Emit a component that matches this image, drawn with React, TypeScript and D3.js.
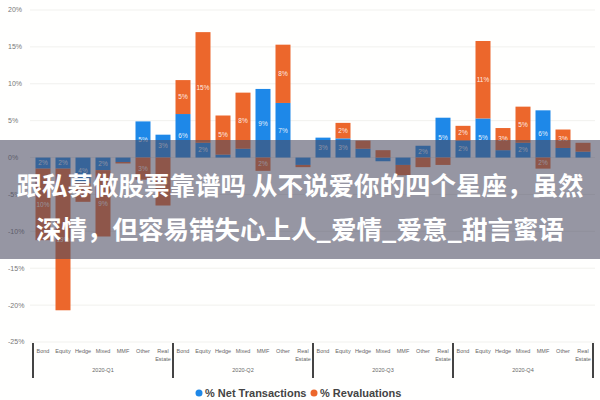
import React from "react";
import * as d3 from "d3";

const categories = ["Bond", "Equity", "Hedge", "Mixed", "MMF", "Other", "Real Estate"];
const periods = ["2020-Q1", "2020-Q2", "2020-Q3", "2020-Q4"];
const netTransactions = [
  -1.5, -1.5, -3.5, -1.7, -0.6, 4.9, 3.1,
  5.9, 2.0, 0.4, 1.2, 9.3, 7.4, -1.0,
  2.7, 2.6, 1.2, -0.5, -1.0, 1.6, 5.4,
  2.3, 5.3, 1.0, 2.0, 6.4, 1.3, 0.8,
];
const revaluations = [
  -9.7, -19.2, -2.5, -9.0, -0.2, -3.0, -6.5,
  4.6, 15.0, 5.3, 7.6, -1.8, 7.9, -0.3,
  0.0, 2.1, 1.1, 1.0, -1.4, -1.3, -1.0,
  2.0, 10.5, 3.0, 4.9, -1.5, 2.5, 1.2,
];
const yTicks = [20, 15, 10, 5, 0, -5, -10, -15, -20, -25];
const seriesNames = ["% Net Transactions", "% Revaluations"];
const titleLines = [
  "跟私募做股票靠谱吗 从不说爱你的四个星座，虽然",
  "深情，但容易错失心上人_爱情_爱意_甜言蜜语",
];

const W = 600, H = 400;
const colors = ["#1e88e8", "#ec672c"];

export default function App() {
  const rows = periods.flatMap((p, pi) =>
    categories.map((c, ci) => ({
      key: p + "|" + c,
      period: p,
      cat: c,
      net: netTransactions[pi * categories.length + ci],
      rev: revaluations[pi * categories.length + ci],
    }))
  );
  const x = d3.scaleBand<string>().domain(rows.map(r => r.key)).range([33, 593]).paddingInner(0.25).paddingOuter(0.125);
  const y = d3.scaleLinear().domain([-25, 20]).range([342, 10]);
  const stack = d3.stack<any>().keys(["net", "rev"]).offset(d3.stackOffsetDiverging);
  const series = stack(rows);
  const groupW = (593 - 33) / periods.length;

  return (
    <svg width={W} height={H} style={{ position: "absolute", left: 0, top: 0, background: "#fffffe" }}
      fontFamily="'Liberation Sans', Arial, sans-serif">
      {yTicks.map(t => (
        <g key={t}>
          <line x1={30} x2={595} y1={y(t)} y2={y(t)} stroke="#f1f1ee" strokeWidth={1} />
          <text x={8} y={y(t)} dy="0.35em" fontSize={7} fill="#777">{t}%</text>
        </g>
      ))}
      {series.map((s, si) => (
        <g key={si} fill={colors[si]}>
          {s.map((d, i) => {
            const y0 = y(Math.max(d[0], d[1]));
            const y1 = y(Math.min(d[0], d[1]));
            const h = y1 - y0;
            const v = d[1] - d[0];
            const bx = x(rows[i].key)!;
            return (
              <g key={i}>
                {h > 0 && <rect x={bx} y={y0} width={x.bandwidth()} height={h} />}
                {h >= 11 && (
                  <text x={bx + x.bandwidth() / 2} y={(y0 + y1) / 2} dy="0.35em" textAnchor="middle"
                    fontSize={6.5} fill="#fff" fillOpacity={0.9}>
                    {Math.round(v)}%
                  </text>
                )}
              </g>
            );
          })}
        </g>
      ))}
      {rows.map(r => {
        const cx = x(r.key)! + x.bandwidth() / 2;
        const parts = r.cat === "Real Estate" ? ["Real", "Estate"] : [r.cat];
        return (
          <text key={r.key} x={cx} y={353} textAnchor="middle" fontSize={5.5} fill="#666">
            {parts.map((p, i) => (
              <tspan key={i} x={cx} dy={i === 0 ? 0 : 8}>{p}</tspan>
            ))}
          </text>
        );
      })}
      {periods.map((p, i) => (
        <text key={p} x={33 + groupW * (i + 0.5)} y={372} textAnchor="middle" fontSize={5.5} fill="#666">{p}</text>
      ))}
      {d3.range(periods.length + 1).map(i => (
        <line key={i} x1={33 + groupW * i} x2={33 + groupW * i} y1={343} y2={378} stroke="#444" strokeWidth={2} />
      ))}
      <g fontSize={11} fontWeight="bold" fill="#444">
        <circle cx={199} cy={393} r={3.5} fill={colors[0]} />
        <text x={205} y={393} dy="0.35em">{seriesNames[0]}</text>
        <circle cx={314} cy={393} r={3.5} fill={colors[1]} />
        <text x={320} y={393} dy="0.35em">{seriesNames[1]}</text>
      </g>
      <rect x={0} y={140} width={W} height={119} fill="#4a4a60" fillOpacity={0.58} />
      <g fontFamily="'Noto Sans CJK SC', sans-serif" fontWeight="bold" fontSize={25.5} fill="#fff" textAnchor="middle">
        <text x={300} y={186} dy="0.35em">{titleLines[0]}</text>
        <text x={300} y={230} dy="0.35em">{titleLines[1]}</text>
      </g>
    </svg>
  );
}
